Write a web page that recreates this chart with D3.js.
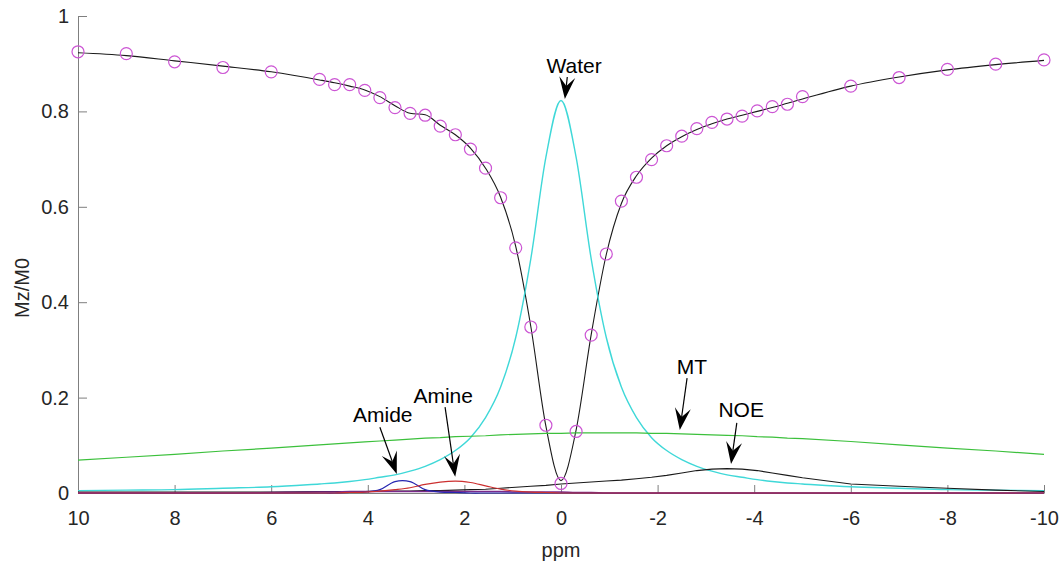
<!DOCTYPE html>
<html>
<head>
<meta charset="utf-8">
<script src="https://cdn.jsdelivr.net/npm/d3@7"></script>
<style>
  html, body { margin: 0; padding: 0; background: #ffffff; }
  svg { display: block; font-family: "Liberation Sans", Arial, Helvetica, sans-serif; }
</style>
</head>
<body>
<svg id="chart" width="1062" height="566"></svg>
<script>
// Saturation offsets (ppm)
const offsets = [10, 9, 8, 7, 6, 5,
  4.6875, 4.375, 4.0625, 3.75, 3.4375, 3.125, 2.8125, 2.5, 2.1875, 1.875, 1.5625, 1.25, 0.9375, 0.625, 0.3125,
  0,
  -0.3125, -0.625, -0.9375, -1.25, -1.5625, -1.875, -2.1875, -2.5, -2.8125, -3.125, -3.4375, -3.75, -4.0625, -4.375, -4.6875, -5,
  -6, -7, -8, -9, -10];

// Measured Z-spectrum
const measured = [0.925, 0.921, 0.904, 0.892, 0.883, 0.867,
  0.856, 0.856, 0.844, 0.829, 0.808, 0.796, 0.792, 0.769, 0.751, 0.721, 0.681, 0.619, 0.514, 0.348, 0.142,
  0.020,
  0.129, 0.331, 0.501, 0.612, 0.662, 0.699, 0.728, 0.748, 0.764, 0.777, 0.784, 0.790, 0.801, 0.810, 0.815, 0.831,
  0.853, 0.871, 0.888, 0.899, 0.908];

// Multi-pool fit
const fitted = [0.923, 0.917, 0.906, 0.895, 0.883, 0.866,
  0.860, 0.853, 0.845, 0.831, 0.812, 0.796, 0.793, 0.771, 0.751, 0.723, 0.681, 0.620, 0.517, 0.349, 0.140,
  0.026,
  0.132, 0.332, 0.500, 0.607, 0.665, 0.702, 0.728, 0.747, 0.762, 0.774, 0.784, 0.792, 0.800, 0.808, 0.817, 0.826,
  0.853, 0.872, 0.887, 0.898, 0.907];

// Pool contributions
const water = [0.005, 0.006, 0.007, 0.010, 0.013, 0.019,
  0.021, 0.024, 0.028, 0.033, 0.038, 0.046, 0.056, 0.070, 0.089, 0.116, 0.158, 0.222, 0.326, 0.491, 0.704,
  0.823,
  0.704, 0.491, 0.326, 0.222, 0.158, 0.116, 0.089, 0.070, 0.056, 0.046, 0.038, 0.033, 0.028, 0.024, 0.021, 0.019,
  0.013, 0.010, 0.007, 0.006, 0.005];

const mt = [0.069, 0.075, 0.081, 0.088, 0.094, 0.101,
  0.103, 0.105, 0.107, 0.109, 0.111, 0.113, 0.115, 0.116, 0.118, 0.119, 0.120, 0.122, 0.123, 0.124, 0.125,
  0.125,
  0.126, 0.126, 0.126, 0.126, 0.126, 0.125, 0.125, 0.124, 0.123, 0.122, 0.121, 0.120, 0.118, 0.117, 0.115, 0.114,
  0.108, 0.101, 0.094, 0.088, 0.081];

const noe = [0.002, 0.002, 0.002, 0.002, 0.002, 0.003,
  0.003, 0.003, 0.003, 0.004, 0.004, 0.004, 0.005, 0.005, 0.006, 0.007, 0.008, 0.010, 0.012, 0.014, 0.016,
  0.019,
  0.021, 0.023, 0.025, 0.027, 0.030, 0.033, 0.037, 0.042, 0.047, 0.050, 0.051, 0.050, 0.047, 0.042, 0.037, 0.032,
  0.019, 0.014, 0.010, 0.006, 0.003];

const amide = [0, 0, 0, 0, 0, 0,
  0, 0.001, 0.002, 0.007, 0.024, 0.024, 0.007, 0.002, 0.001, 0, 0, 0, 0, 0, 0,
  0,
  0, 0, 0, 0, 0, 0, 0, 0, 0, 0, 0, 0, 0, 0, 0, 0,
  0, 0, 0, 0, 0];

const amine = [0, 0, 0, 0, 0, 0,
  0, 0.001, 0.002, 0.004, 0.007, 0.011, 0.018, 0.023, 0.025, 0.022, 0.015, 0.008, 0.004, 0.002, 0.001,
  0,
  0, 0, 0, 0, 0, 0, 0, 0, 0, 0, 0, 0, 0, 0, 0, 0,
  0, 0, 0, 0, 0];

const broadPool = [0, 0, 0, 0, 0.001, 0.002,
  0.002, 0.003, 0.003, 0.003, 0.003, 0.003, 0.003, 0.003, 0.003, 0.003, 0.003, 0.003, 0.002, 0.002, 0.002,
  0.002,
  0.001, 0.001, 0, 0, 0, 0, 0, 0, 0, 0, 0, 0, 0, 0, 0, 0,
  0, 0, 0, 0, 0];

// Axis ticks
const xTicks = [10, 8, 6, 4, 2, 0, -2, -4, -6, -8, -10];
const yTicks = [0, 0.2, 0.4, 0.6, 0.8, 1];

// Annotation labels (text anchor and arrow, in data units)
const notes = [
  { label: "Water", tx: -0.27, ty: 0.895, fx: -0.13, fy: 0.872, px: -0.08, py: 0.826 },
  { label: "Amide", tx: 3.69, ty: 0.164, fx: 3.75, fy: 0.138, px: 3.40, py: 0.040 },
  { label: "Amine", tx: 2.44, ty: 0.205, fx: 2.40, fy: 0.180, px: 2.19, py: 0.034 },
  { label: "MT", tx: -2.71, ty: 0.264, fx: -2.61, fy: 0.241, px: -2.46, py: 0.132 },
  { label: "NOE", tx: -3.73, ty: 0.174, fx: -3.64, fy: 0.147, px: -3.52, py: 0.061 }
];

const svg = d3.select("#chart");
const x = d3.scaleLinear().domain([10, -10]).range([78, 1044]);
const y = d3.scaleLinear().domain([0, 1]).range([493, 16]);

const axisColor = "#7f7f7f";
const textColor = "#262626";

// Axes
const gx = svg.append("g")
  .attr("transform", `translate(0,${y(0)})`)
  .call(d3.axisBottom(x).tickValues(xTicks).tickSize(-8).tickSizeOuter(0).tickPadding(18)
    .tickFormat(d => String(d)));
const gy = svg.append("g")
  .attr("transform", `translate(${x(10)},0)`)
  .call(d3.axisLeft(y).tickValues(yTicks).tickSize(-9).tickSizeOuter(0).tickPadding(9)
    .tickFormat(d => String(d)));
[gx, gy].forEach(g => {
  g.select(".domain").attr("stroke", axisColor).attr("stroke-width", 1);
  g.selectAll(".tick line").attr("stroke", axisColor).attr("stroke-width", 1);
  g.selectAll(".tick text").attr("fill", textColor).style("font-size", "20px")
    .style("font-family", "'Liberation Sans', Arial, sans-serif");
});

// Axis titles
svg.append("text").attr("x", x(0)).attr("y", 557).attr("text-anchor", "middle")
  .attr("fill", textColor).style("font-size", "20px").text("ppm");
svg.append("text").attr("transform", `translate(29,${288}) rotate(-90)`).attr("text-anchor", "middle")
  .attr("fill", textColor).style("font-size", "20px").text("Mz/M0");

// Curves
const rows = offsets.map((o, i) => ({ o, i }));
function drawCurve(values, color, curve, width) {
  const line = d3.line().x(d => x(d.o)).y(d => y(values[d.i])).curve(curve);
  svg.append("path").datum(rows).attr("d", line).attr("fill", "none")
    .attr("stroke", color).attr("stroke-width", width || 1.2);
}

drawCurve(fitted, "#1a1a1a", d3.curveMonotoneX, 1.1);
drawCurve(water, "#3fd8d8", d3.curveMonotoneX, 1.4);
drawCurve(mt, "#3cc03c", d3.curveLinear, 1.2);
drawCurve(noe, "#1a1a1a", d3.curveLinear, 1.1);
drawCurve(broadPool, "#7a2a8a", d3.curveMonotoneX, 1.6);
drawCurve(amide, "#2626b0", d3.curveCatmullRom, 1.2);
drawCurve(amine, "#cc3030", d3.curveMonotoneX, 1.2);

// Measured points
svg.append("g").selectAll("circle").data(rows).join("circle")
  .attr("cx", d => x(d.o)).attr("cy", d => y(measured[d.i])).attr("r", 6)
  .attr("fill", "none").attr("stroke", "#cc55d4").attr("stroke-width", 1.2);

// Annotation arrows
const headLen = 22, headWid = 16, notch = 0.6;
const ann = svg.append("g");
notes.forEach(n => {
  const x0 = x(n.fx), y0 = y(n.fy), x1 = x(n.px), y1 = y(n.py);
  const dx = x1 - x0, dy = y1 - y0, len = Math.hypot(dx, dy);
  const ux = dx / len, uy = dy / len;
  const bx = x1 - ux * headLen, by = y1 - uy * headLen;
  const nx = x1 - ux * headLen * notch, ny = y1 - uy * headLen * notch;
  const px = -uy, py = ux;
  if (len > headLen * notch) {
    ann.append("line").attr("x1", x0).attr("y1", y0).attr("x2", nx).attr("y2", ny)
      .attr("stroke", "#000").attr("stroke-width", 1.2);
  }
  ann.append("path")
    .attr("d", `M${x1},${y1}L${bx + px * headWid / 2},${by + py * headWid / 2}L${nx},${ny}L${bx - px * headWid / 2},${by - py * headWid / 2}Z`)
    .attr("fill", "#000");
  ann.append("text").attr("x", x(n.tx)).attr("y", y(n.ty)).attr("dy", "0.35em")
    .attr("text-anchor", "middle").attr("fill", "#000").style("font-size", "21px").text(n.label);
});
</script>
</body>
</html>
